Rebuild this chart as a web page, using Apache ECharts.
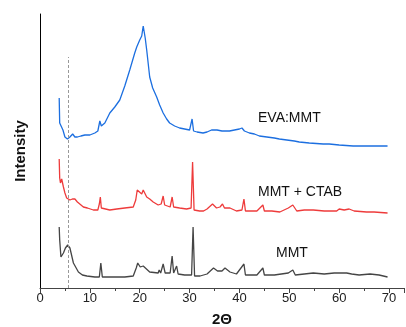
<!DOCTYPE html>
<html>
<head>
<meta charset="utf-8">
<script src="https://cdn.jsdelivr.net/npm/echarts@6/dist/echarts.min.js"></script>
<style>
  html, body { margin: 0; padding: 0; background: #fff; }
  #main { width: 406px; height: 327px; }
</style>
</head>
<body>
<div id="main"></div>
<script>
// 2θ ticks
const xTicks = [0, 10, 20, 30, 40, 50, 60, 70];
// curves, [2θ, intensity] (offsets included)
const evaMmt = [[3.85,190],[3.95,165],[4.2,163],[4.6,158],[5.0,151],[5.5,149],[6.0,151],[6.55,154],[7.0,151],[7.5,151],[8.2,152],[9,153],[10,153],[11,155],[11.6,157],[12.0,167],[12.3,162],[13,165],[14,175],[15,181],[16,188],[17,202],[18,218],[19,235],[19.4,241],[20,248],[20.4,252],[20.7,262],[20.9,261],[21.1,250],[21.4,238],[22,211],[22.6,200],[23.4,191],[24,183],[24.7,175],[25.4,169],[26,165],[27,162],[28,160],[29,159],[30,158],[30.3,160],[30.5,169],[30.8,157],[31.5,156],[32.7,155],[33.5,156],[34.4,158],[35.5,158],[36.5,157],[38,157],[39,158],[40,159],[40.5,160],[41,157],[42,155],[43,154],[44,152],[45.5,151],[47,150],[48,149],[49.5,148],[51,147],[52,146],[54,145],[56.8,144],[58,144],[60,143],[62.8,142],[65,142],[67,142],[69.7,142]];
const mmtCtab = [[3.85,129],[3.95,110],[4.1,105],[4.35,109],[4.7,101],[5.0,95],[5.35,90],[6,88],[6.5,89],[7,89],[7.5,86],[8.7,81],[9.5,80],[10.7,78],[11.6,78],[11.9,84],[12.1,91],[12.3,80],[12.6,78],[14,78],[15.4,79],[17,80],[18.7,81],[19.2,88],[19.5,98],[19.9,99],[20.4,94],[20.7,98],[21.4,91],[22,89],[22.7,86],[23.7,83],[23.9,85],[24.3,84],[24.7,92],[25.0,83],[26.1,81],[26.5,91],[26.8,81],[28,80],[29.4,79],[30.3,80],[30.6,126],[30.9,78],[32,77],[32.8,77],[33.5,79],[34.6,84],[35.4,80],[36.1,81],[36.6,84],[37,80],[38.1,80],[39.4,77],[40.5,78],[40.9,89],[41.2,77],[43.5,77],[44.7,83],[45,77],[46.5,77],[48.1,76],[49.8,80],[50.7,83],[51.5,77],[53,78],[54.8,78],[57,77],[59.5,77],[60,79],[61,78],[62,79],[63,77],[65.5,76],[67,76],[69.7,75]];
const mmt = [[3.85,61],[3.95,48],[4.2,31],[4.7,35],[5.1,40],[5.55,43],[6.0,40],[6.7,25],[7.7,16],[8.5,13],[9.4,12],[11,11],[11.9,11],[12.2,25],[12.5,11],[14,11],[15.4,11],[17,11],[18.7,12],[19.3,20],[19.6,25],[20.1,21],[20.7,22],[22,16],[23.7,15],[23.9,18],[24.2,15],[24.7,24],[25.1,15],[26.1,15],[26.5,32],[26.8,15],[27.1,16],[27.4,22],[27.7,14],[29,13],[30.4,13],[30.7,61],[31.0,12],[32.1,12],[33.5,14],[34.8,20],[35.6,17],[36.5,17],[37.1,20],[38.1,16],[39.4,14],[40.9,24],[41.2,13],[43.5,13],[44.7,20],[45,13],[47,13],[49.8,15],[50.7,18],[51.2,13],[53,14],[54.8,15],[57,14],[59,15],[61.5,15],[62.5,14],[64,13],[66.2,14],[68,13],[69.7,11]];
// dashed reference line
const dashedAt = 5.7;
const dashedTop = 231;

const chart = echarts.init(document.getElementById('main'));

const lineSeries = (name, data, color) => ({
  name: name,
  type: 'line',
  data: data,
  showSymbol: false,
  smooth: false,
  lineStyle: { color: color, width: 1.3 },
  itemStyle: { color: color },
  animation: false
});

const blue = lineSeries('EVA:MMT', evaMmt, '#1c6fe0');
const red = lineSeries('MMT + CTAB', mmtCtab, '#ee3b3b');
const gray = lineSeries('MMT', mmt, '#454545');
gray.markLine = {
  silent: true,
  symbol: ['none', 'none'],
  label: { show: false },
  lineStyle: { color: '#999', type: [3, 2], width: 1 },
  data: [[{ coord: [dashedAt, 0] }, { coord: [dashedAt, dashedTop] }]]
};

const labelFont = '14px "Liberation Sans", Arial, sans-serif';

const option = {
  backgroundColor: '#ffffff',
  animation: false,
  grid: { left: 40, right: 2, top: 14, bottom: 39, outerBoundsMode: 'none', containLabel: false },
  xAxis: {
    type: 'value',
    min: 0,
    max: 73,
    interval: 10,
    name: '2Θ',
    nameLocation: 'middle',
    nameGap: 24,
    nameTextStyle: { fontFamily: 'Liberation Sans', fontWeight: 'bold', fontSize: 15, color: '#111', verticalAlign: 'top' },
    axisLine: { lineStyle: { color: '#444', width: 1 } },
    axisTick: { length: 5, lineStyle: { color: '#444' } },
    minorTick: { show: true, splitNumber: 2, length: 3, lineStyle: { color: '#444' } },
    axisLabel: {
      fontFamily: 'Liberation Sans', fontSize: 13, color: '#222', margin: 4,
      formatter: v => (xTicks.includes(v) ? String(v) : '')
    },
    splitLine: { show: false }
  },
  yAxis: {
    type: 'value',
    min: 0,
    max: 274,
    name: 'Intensity',
    nameLocation: 'middle',
    nameGap: 12,
    nameRotate: 90,
    nameTextStyle: { fontFamily: 'Liberation Sans', fontWeight: 'bold', fontSize: 15, color: '#111' },
    axisLine: { show: true, lineStyle: { color: '#000', width: 1 } },
    axisTick: { show: false },
    axisLabel: { show: false },
    splitLine: { show: false }
  },
  graphic: [
    { type: 'text', left: 258, top: 111, style: { text: 'EVA:MMT', font: labelFont, fill: '#111' } },
    { type: 'text', left: 258, top: 185, style: { text: 'MMT + CTAB', font: labelFont, fill: '#111' } },
    { type: 'text', left: 276, top: 246, style: { text: 'MMT', font: labelFont, fill: '#111' } }
  ],
  series: [gray, red, blue]
};

chart.setOption(option);
</script>
</body>
</html>
